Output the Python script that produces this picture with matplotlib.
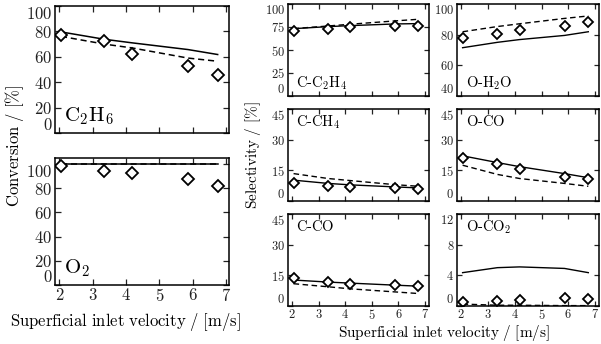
import matplotlib
matplotlib.use("Agg")
import matplotlib.pyplot as plt

plt.rcParams['font.family'] = 'serif'
plt.rcParams['font.serif'] = ['cmr10']
plt.rcParams['mathtext.fontset'] = 'cm'
plt.rcParams['axes.formatter.use_mathtext'] = True
plt.rcParams['axes.unicode_minus'] = False

# ---- data ----
vel = [2.05, 3.35, 4.18, 5.86, 6.75]

conv_c2h6_exp = [77.5, 72.2, 62.5, 52.5, 45.3]
conv_c2h6_solid = [79.6, 73.8, 71.0, 65.7, 61.8]
conv_c2h6_dash = [76.1, 70.0, 67.0, 59.0, 56.5]

conv_o2_exp = [98.0, 94.6, 92.4, 87.5, 82.2]
conv_o2_solid = [100.3, 100.3, 100.3, 100.3, 100.3]
conv_o2_dash = [100.0, 100.0, 100.0, 100.0, 100.0]

sel_c2h4_exp = [70.6, 73.2, 75.0, 76.1, 76.0]
sel_c2h4_solid = [73.2, 75.4, 76.5, 78.3, 78.7]
sel_c2h4_dash = [73.2, 76.1, 78.0, 81.6, 83.4]

sel_h2o_exp = [77.7, 80.7, 83.0, 85.7, 88.3]
sel_h2o_solid = [71.5, 75.0, 76.8, 79.5, 81.9]
sel_h2o_dash = [81.9, 85.3, 87.1, 90.6, 92.2]

sel_ch4_exp = [8.9, 7.2, 6.9, 6.4, 5.9]
sel_ch4_solid = [10.2, 8.6, 7.9, 6.9, 6.4]
sel_ch4_dash = [13.4, 11.0, 10.0, 8.0, 7.2]

sel_oco_exp = [20.9, 18.0, 15.8, 11.9, 10.9]
sel_oco_solid = [22.1, 18.8, 16.8, 13.4, 11.4]
sel_oco_dash = [17.5, 13.0, 11.0, 8.6, 7.2]

sel_cco_exp = [13.9, 11.7, 10.9, 10.2, 9.7]
sel_cco_solid = [12.7, 11.7, 11.2, 10.2, 9.7]
sel_cco_dash = [10.9, 9.4, 8.4, 6.9, 6.1]

sel_oco2_exp = [0.5, 0.7, 0.8, 1.1, 0.9]
sel_oco2_solid = [4.35, 5.0, 5.1, 4.9, 4.35]
sel_oco2_dash = [0.25, 0.1, 0.1, 0.05, 0.05]

xticks = [2, 3, 4, 5, 6, 7]

W, H = 601, 344
fig = plt.figure(figsize=(W / 100, H / 100), dpi=100)


def px_axes(x0, y0, x1, y1):
    return fig.add_axes([x0 / W, 1 - y1 / H, (x1 - x0) / W, (y1 - y0) / H])


def style(ax, xlim, ylim, yticks, show_xlabels, tick_fs, tlen):
    ax.set_xlim(*xlim)
    ax.set_ylim(*ylim)
    ax.set_xticks(xticks)
    ax.set_yticks(yticks)
    ax.tick_params(direction='in', top=True, right=True, length=tlen, width=0.9,
                   labelsize=tick_fs, pad=2, colors='#222222')
    ax.tick_params(axis='x', labelbottom=show_xlabels, pad=1.5)
    for s in ax.spines.values():
        s.set_linewidth(1.1)
    ticks = ax.yaxis.get_major_ticks()
    ticks[0].label1.set_verticalalignment('bottom')
    ticks[-1].label1.set_verticalalignment('top')


def draw(ax, exp, solid, dash, ms, lw):
    ax.plot(vel, solid, '-', color='black', lw=lw)
    ax.plot(vel, dash, '--', color='black', lw=lw, dashes=(4, 2.5))
    ax.plot(vel, exp, 'D', ms=ms, mfc='white', mec='black', mew=1.3, ls='none')


# left column
ax1 = px_axes(55, 6, 229, 133)
draw(ax1, conv_c2h6_exp, conv_c2h6_solid, conv_c2h6_dash, 6.0, 1.1)
style(ax1, (1.87, 7.09), (0, 100), [0, 20, 40, 60, 80, 100], False, 12, 4.5)
ax1.text(0.05, 0.05, r'$\mathrm{C_2H_6}$', transform=ax1.transAxes, fontsize=15,
         ha='left', va='bottom')

ax2 = px_axes(55, 158, 229, 285)
draw(ax2, conv_o2_exp, conv_o2_solid, conv_o2_dash, 6.0, 1.1)
style(ax2, (1.87, 7.09), (0, 105), [0, 20, 40, 60, 80, 100], True, 12, 4.5)
ax2.text(0.05, 0.05, r'$\mathrm{O_2}$', transform=ax2.transAxes, fontsize=15,
         ha='left', va='bottom')

fig.text(15 / W, 1 - 146 / H, r'$\mathrm{Conversion\ /\ [\%]}$', rotation=90,
         ha='center', va='center', fontsize=12)
fig.text(125 / W, 1 - 322 / H, r'$\mathrm{Superficial\ inlet\ velocity\ /\ [m/s]}$',
         ha='center', va='center', fontsize=12)

# right panels
cols = [(288, 429), (457, 599)]
rows = [(4, 96), (109, 201), (214, 306)]
panels = [
    (0, 0, sel_c2h4_exp, sel_c2h4_solid, sel_c2h4_dash, (0, 100), [0, 25, 50, 75, 100], r'$\mathrm{C\text{-}C_2H_4}$', 'bottom'),
    (0, 1, sel_h2o_exp, sel_h2o_solid, sel_h2o_dash, (40, 100), [40, 60, 80, 100], r'$\mathrm{O\text{-}H_2O}$', 'bottom'),
    (1, 0, sel_ch4_exp, sel_ch4_solid, sel_ch4_dash, (0, 45), [0, 15, 30, 45], r'$\mathrm{C\text{-}CH_4}$', 'top'),
    (1, 1, sel_oco_exp, sel_oco_solid, sel_oco_dash, (0, 45), [0, 15, 30, 45], r'$\mathrm{O\text{-}CO}$', 'top'),
    (2, 0, sel_cco_exp, sel_cco_solid, sel_cco_dash, (0, 45), [0, 15, 30, 45], r'$\mathrm{C\text{-}CO}$', 'top'),
    (2, 1, sel_oco2_exp, sel_oco2_solid, sel_oco2_dash, (0, 12), [0, 4, 8, 12], r'$\mathrm{O\text{-}CO_2}$', 'top'),
]
for r, c, e, s, d, ylim, yt, lab, pos in panels:
    x0, x1 = cols[c]
    y0, y1 = rows[r]
    ax = px_axes(x0, y0, x1, y1)
    draw(ax, e, s, d, 4.6, 1.0)
    style(ax, (1.84, 7.15), ylim, yt, r == 2, 9, 3.5)
    if pos == 'bottom':
        ax.text(0.06, 0.04, lab, transform=ax.transAxes, fontsize=10.5, ha='left', va='bottom')
    else:
        ax.text(0.06, 0.95, lab, transform=ax.transAxes, fontsize=10.5, ha='left', va='top')

fig.text(253 / W, 1 - 155 / H, r'$\mathrm{Selectivity\ /\ [\%]}$', rotation=90,
         ha='center', va='center', fontsize=11)
fig.text(444 / W, 1 - 333 / H, r'$\mathrm{Superficial\ inlet\ velocity\ /\ [m/s]}$',
         ha='center', va='center', fontsize=11)

fig.savefig('out.png', dpi=100)
